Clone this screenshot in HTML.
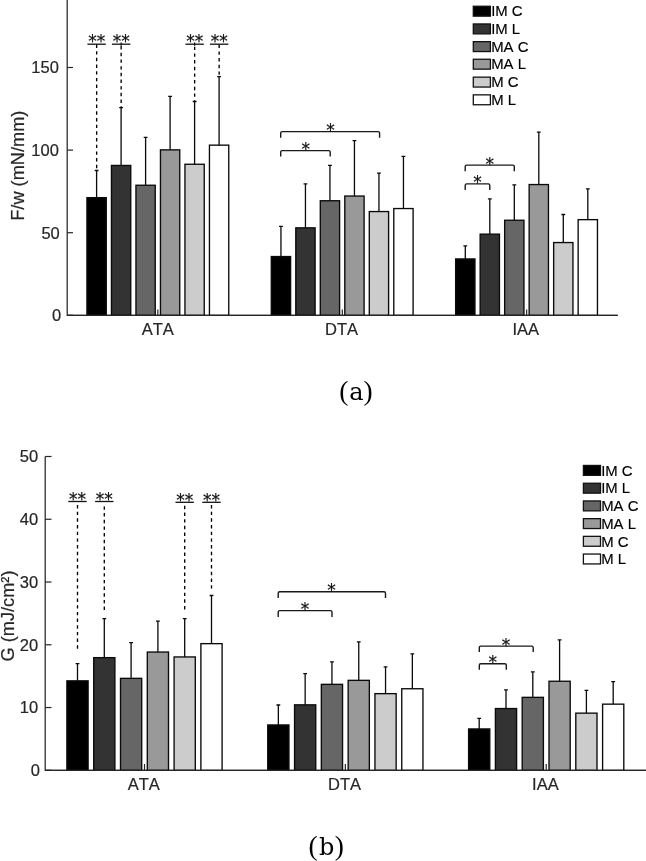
<!DOCTYPE html>
<html><head><meta charset="utf-8"><title>Figure</title>
<style>
html,body{margin:0;padding:0;background:#fff}
svg{display:block}
text{font-kerning:none}
.tk{font-family:"Liberation Sans",sans-serif;font-size:16.5px;fill:#262626;stroke:#262626;stroke-width:0.2px}
.yl{font-family:"Liberation Sans",sans-serif;font-size:18.2px;fill:#262626;stroke:#262626;stroke-width:0.2px}
.lg{font-family:"Liberation Sans",sans-serif;font-size:14.9px;fill:#000;stroke:#000;stroke-width:0.15px}
.st{font-family:"DejaVu Sans","Liberation Sans",sans-serif;font-size:17px;fill:#111;stroke:#111;stroke-width:0.2px}
.st2{font-family:"DejaVu Sans","Liberation Sans",sans-serif;font-size:17px;fill:#111;stroke:#111;stroke-width:0.2px}
.cap{font-family:"Liberation Serif",serif;font-size:27.5px;fill:#000}
.capl{font-family:"DejaVu Serif","Liberation Serif",serif;font-size:24px}
</style></head><body>
<svg width="646" height="861" viewBox="0 0 646 861">
<rect width="646" height="861" fill="#fff"/>
<path d="M67.2 0V315.3H617.7" fill="none" stroke="#262626" stroke-width="1.25"/>
<path d="M67.2 315.30h5.8" stroke="#262626" stroke-width="1.2"/>
<text x="61.20" y="321.20" text-anchor="end" class="tk">0</text>
<path d="M67.2 232.70h5.8" stroke="#262626" stroke-width="1.2"/>
<text x="59.80" y="238.60" text-anchor="end" class="tk">50</text>
<path d="M67.2 150.10h5.8" stroke="#262626" stroke-width="1.2"/>
<text x="58.90" y="156.00" text-anchor="end" class="tk">100</text>
<path d="M67.2 67.50h5.8" stroke="#262626" stroke-width="1.2"/>
<text x="58.90" y="73.40" text-anchor="end" class="tk">150</text>
<rect x="86.95" y="197.65" width="19.30" height="117.65" fill="#000000" stroke="#0a0a0a" stroke-width="1.35"/>
<path d="M96.60 197.65V170.30M94.70 170.50h3.8" stroke="#0a0a0a" stroke-width="1.3" fill="none"/>
<rect x="111.45" y="165.45" width="19.30" height="149.85" fill="#333333" stroke="#0a0a0a" stroke-width="1.35"/>
<path d="M121.10 165.45V107.50M119.20 107.70h3.8" stroke="#0a0a0a" stroke-width="1.3" fill="none"/>
<rect x="135.95" y="185.25" width="19.30" height="130.05" fill="#666666" stroke="#0a0a0a" stroke-width="1.35"/>
<path d="M145.60 185.25V137.20M143.70 137.40h3.8" stroke="#0a0a0a" stroke-width="1.3" fill="none"/>
<rect x="160.45" y="149.85" width="19.30" height="165.45" fill="#999999" stroke="#0a0a0a" stroke-width="1.35"/>
<path d="M170.10 149.85V96.10M168.20 96.30h3.8" stroke="#0a0a0a" stroke-width="1.3" fill="none"/>
<rect x="184.95" y="164.25" width="19.30" height="151.05" fill="#cccccc" stroke="#0a0a0a" stroke-width="1.35"/>
<path d="M194.60 164.25V101.30M192.70 101.50h3.8" stroke="#0a0a0a" stroke-width="1.3" fill="none"/>
<rect x="209.45" y="145.15" width="19.30" height="170.15" fill="#ffffff" stroke="#0a0a0a" stroke-width="1.35"/>
<path d="M219.10 145.15V76.50M217.20 76.70h3.8" stroke="#0a0a0a" stroke-width="1.3" fill="none"/>
<path d="M157.85 315.3v-5.8" stroke="#262626" stroke-width="1.2"/>
<text x="157.75" y="335.4" text-anchor="middle" class="tk" >ATA</text>
<rect x="271.30" y="256.55" width="19.30" height="58.75" fill="#000000" stroke="#0a0a0a" stroke-width="1.35"/>
<path d="M280.95 256.55V226.10M279.05 226.30h3.8" stroke="#0a0a0a" stroke-width="1.3" fill="none"/>
<rect x="295.80" y="227.85" width="19.30" height="87.45" fill="#333333" stroke="#0a0a0a" stroke-width="1.35"/>
<path d="M305.45 227.85V183.60M303.55 183.80h3.8" stroke="#0a0a0a" stroke-width="1.3" fill="none"/>
<rect x="320.30" y="200.75" width="19.30" height="114.55" fill="#666666" stroke="#0a0a0a" stroke-width="1.35"/>
<path d="M329.95 200.75V165.10M328.05 165.30h3.8" stroke="#0a0a0a" stroke-width="1.3" fill="none"/>
<rect x="344.80" y="196.05" width="19.30" height="119.25" fill="#999999" stroke="#0a0a0a" stroke-width="1.35"/>
<path d="M354.45 196.05V140.50M352.55 140.70h3.8" stroke="#0a0a0a" stroke-width="1.3" fill="none"/>
<rect x="369.30" y="211.55" width="19.30" height="103.75" fill="#cccccc" stroke="#0a0a0a" stroke-width="1.35"/>
<path d="M378.95 211.55V173.00M377.05 173.20h3.8" stroke="#0a0a0a" stroke-width="1.3" fill="none"/>
<rect x="393.80" y="208.55" width="19.30" height="106.75" fill="#ffffff" stroke="#0a0a0a" stroke-width="1.35"/>
<path d="M403.45 208.55V156.10M401.55 156.30h3.8" stroke="#0a0a0a" stroke-width="1.3" fill="none"/>
<path d="M342.3 315.3v-5.8" stroke="#262626" stroke-width="1.2"/>
<text x="341.50" y="335.4" text-anchor="middle" class="tk" >DTA</text>
<rect x="455.65" y="258.95" width="19.30" height="56.35" fill="#000000" stroke="#0a0a0a" stroke-width="1.35"/>
<path d="M465.30 258.95V245.60M463.40 245.80h3.8" stroke="#0a0a0a" stroke-width="1.3" fill="none"/>
<rect x="480.15" y="234.15" width="19.30" height="81.15" fill="#333333" stroke="#0a0a0a" stroke-width="1.35"/>
<path d="M489.80 234.15V198.60M487.90 198.80h3.8" stroke="#0a0a0a" stroke-width="1.3" fill="none"/>
<rect x="504.65" y="220.25" width="19.30" height="95.05" fill="#666666" stroke="#0a0a0a" stroke-width="1.35"/>
<path d="M514.30 220.25V184.70M512.40 184.90h3.8" stroke="#0a0a0a" stroke-width="1.3" fill="none"/>
<rect x="529.15" y="184.55" width="19.30" height="130.75" fill="#999999" stroke="#0a0a0a" stroke-width="1.35"/>
<path d="M538.80 184.55V132.00M536.90 132.20h3.8" stroke="#0a0a0a" stroke-width="1.3" fill="none"/>
<rect x="553.65" y="242.55" width="19.30" height="72.75" fill="#cccccc" stroke="#0a0a0a" stroke-width="1.35"/>
<path d="M563.30 242.55V214.30M561.40 214.50h3.8" stroke="#0a0a0a" stroke-width="1.3" fill="none"/>
<rect x="578.15" y="219.65" width="19.30" height="95.65" fill="#ffffff" stroke="#0a0a0a" stroke-width="1.35"/>
<path d="M587.80 219.65V188.70M585.90 188.90h3.8" stroke="#0a0a0a" stroke-width="1.3" fill="none"/>
<path d="M526.65 315.3v-5.8" stroke="#262626" stroke-width="1.2"/>
<text x="525.85" y="335.4" text-anchor="middle" class="tk" >IAA</text>
<path d="M67.2 315.3H617.7" fill="none" stroke="#262626" stroke-width="1.25"/>
<path d="M87.45 44.2h18.40" stroke="#111" stroke-width="1.3"/>
<path d="M96.65 44.50V170.20" stroke="#000" stroke-width="1.35" stroke-dasharray="3.4 3.28"/>
<text x="96.65" y="47.40" text-anchor="middle" class="st2">**</text>
<path d="M121.15 42.60v3.2" stroke="#000" stroke-width="1.2"/>
<path d="M111.95 44.2h18.40" stroke="#111" stroke-width="1.3"/>
<path d="M121.15 46.10V107.40" stroke="#000" stroke-width="1.35" stroke-dasharray="3.4 3.28"/>
<text x="121.15" y="47.40" text-anchor="middle" class="st2">**</text>
<path d="M194.65 42.60v3.2" stroke="#000" stroke-width="1.2"/>
<path d="M185.45 44.2h18.40" stroke="#111" stroke-width="1.3"/>
<path d="M194.65 46.70V101.20" stroke="#000" stroke-width="1.35" stroke-dasharray="3.4 3.28"/>
<text x="194.65" y="47.40" text-anchor="middle" class="st2">**</text>
<path d="M209.95 44.2h18.40" stroke="#111" stroke-width="1.3"/>
<path d="M219.15 44.70V76.40" stroke="#000" stroke-width="1.35" stroke-dasharray="3.4 3.28"/>
<text x="219.15" y="47.40" text-anchor="middle" class="st2">**</text>
<path d="M280.70 137.80V133.10Q280.70 131.60 282.20 131.60H378.10Q379.60 131.60 379.60 133.10V137.80" fill="none" stroke="#1a1a1a" stroke-width="1.4"/>
<text x="330.50" y="136.10" text-anchor="middle" class="st">*</text>
<path d="M280.70 156.60V152.10Q280.70 150.60 282.20 150.60H328.70Q330.20 150.60 330.20 152.10V156.60" fill="none" stroke="#1a1a1a" stroke-width="1.4"/>
<text x="305.70" y="155.10" text-anchor="middle" class="st">*</text>
<path d="M465.20 171.30V166.60Q465.20 165.10 466.70 165.10H512.80Q514.30 165.10 514.30 166.60V171.30" fill="none" stroke="#1a1a1a" stroke-width="1.4"/>
<text x="489.80" y="169.60" text-anchor="middle" class="st">*</text>
<path d="M465.20 190.00V185.40Q465.20 183.90 466.70 183.90H488.30Q489.80 183.90 489.80 185.40V190.00" fill="none" stroke="#1a1a1a" stroke-width="1.4"/>
<text x="477.40" y="188.40" text-anchor="middle" class="st">*</text>
<rect x="473.30" y="6.25" width="17.1" height="9.9" fill="#000000" stroke="#111" stroke-width="1.3"/>
<text x="491.2" y="16.40" class="lg">IM C</text>
<rect x="473.30" y="23.95" width="17.1" height="9.9" fill="#333333" stroke="#111" stroke-width="1.3"/>
<text x="491.2" y="34.10" class="lg">IM L</text>
<rect x="473.30" y="41.65" width="17.1" height="9.9" fill="#666666" stroke="#111" stroke-width="1.3"/>
<text x="491.2" y="51.80" class="lg">MA C</text>
<rect x="473.30" y="59.25" width="17.1" height="9.9" fill="#999999" stroke="#111" stroke-width="1.3"/>
<text x="491.2" y="69.40" class="lg">MA L</text>
<rect x="473.30" y="77.15" width="17.1" height="9.9" fill="#cccccc" stroke="#111" stroke-width="1.3"/>
<text x="491.2" y="87.30" class="lg">M C</text>
<rect x="473.30" y="94.85" width="17.1" height="9.9" fill="#ffffff" stroke="#111" stroke-width="1.3"/>
<text x="491.2" y="105.00" class="lg">M L</text>
<text transform="translate(24.3 165.7) rotate(-90)" text-anchor="middle" class="yl">F/w (mN/mm)</text>
<text x="339.2" y="400.2" class="cap">(<tspan class="capl" dx="1.0">a</tspan><tspan dx="-0.1">)</tspan></text>
<path d="M45.2 456.5V770.3H646" fill="none" stroke="#262626" stroke-width="1.25"/>
<path d="M45.2 770.30h6.3" stroke="#262626" stroke-width="1.2"/>
<text x="40.00" y="776.20" text-anchor="end" class="tk">0</text>
<path d="M45.2 707.54h6.3" stroke="#262626" stroke-width="1.2"/>
<text x="38.20" y="713.44" text-anchor="end" class="tk">10</text>
<path d="M45.2 644.78h6.3" stroke="#262626" stroke-width="1.2"/>
<text x="38.20" y="650.68" text-anchor="end" class="tk">20</text>
<path d="M45.2 582.02h6.3" stroke="#262626" stroke-width="1.2"/>
<text x="38.20" y="587.92" text-anchor="end" class="tk">30</text>
<path d="M45.2 519.26h6.3" stroke="#262626" stroke-width="1.2"/>
<text x="38.20" y="525.16" text-anchor="end" class="tk">40</text>
<path d="M45.2 456.50h6.3" stroke="#262626" stroke-width="1.2"/>
<text x="38.20" y="462.40" text-anchor="end" class="tk">50</text>
<rect x="66.90" y="680.85" width="21.20" height="89.45" fill="#000000" stroke="#0a0a0a" stroke-width="1.35"/>
<path d="M77.50 680.85V663.40M75.60 663.60h3.8" stroke="#0a0a0a" stroke-width="1.3" fill="none"/>
<rect x="93.70" y="657.65" width="21.20" height="112.65" fill="#333333" stroke="#0a0a0a" stroke-width="1.35"/>
<path d="M104.30 657.65V618.50M102.40 618.70h3.8" stroke="#0a0a0a" stroke-width="1.3" fill="none"/>
<rect x="120.50" y="678.35" width="21.20" height="91.95" fill="#666666" stroke="#0a0a0a" stroke-width="1.35"/>
<path d="M131.10 678.35V642.40M129.20 642.60h3.8" stroke="#0a0a0a" stroke-width="1.3" fill="none"/>
<rect x="147.30" y="652.05" width="21.20" height="118.25" fill="#999999" stroke="#0a0a0a" stroke-width="1.35"/>
<path d="M157.90 652.05V621.00M156.00 621.20h3.8" stroke="#0a0a0a" stroke-width="1.3" fill="none"/>
<rect x="174.10" y="656.95" width="21.20" height="113.35" fill="#cccccc" stroke="#0a0a0a" stroke-width="1.35"/>
<path d="M184.70 656.95V618.50M182.80 618.70h3.8" stroke="#0a0a0a" stroke-width="1.3" fill="none"/>
<rect x="200.90" y="643.65" width="21.20" height="126.65" fill="#ffffff" stroke="#0a0a0a" stroke-width="1.35"/>
<path d="M211.50 643.65V595.30M209.60 595.50h3.8" stroke="#0a0a0a" stroke-width="1.3" fill="none"/>
<path d="M144.5 770.3v-6.3" stroke="#262626" stroke-width="1.2"/>
<text x="143.70" y="790.4" text-anchor="middle" class="tk" >ATA</text>
<rect x="267.75" y="724.95" width="21.20" height="45.35" fill="#000000" stroke="#0a0a0a" stroke-width="1.35"/>
<path d="M278.35 724.95V704.80M276.45 705.00h3.8" stroke="#0a0a0a" stroke-width="1.3" fill="none"/>
<rect x="294.55" y="704.85" width="21.20" height="65.45" fill="#333333" stroke="#0a0a0a" stroke-width="1.35"/>
<path d="M305.15 704.85V673.50M303.25 673.70h3.8" stroke="#0a0a0a" stroke-width="1.3" fill="none"/>
<rect x="321.35" y="684.35" width="21.20" height="85.95" fill="#666666" stroke="#0a0a0a" stroke-width="1.35"/>
<path d="M331.95 684.35V661.70M330.05 661.90h3.8" stroke="#0a0a0a" stroke-width="1.3" fill="none"/>
<rect x="348.15" y="680.35" width="21.20" height="89.95" fill="#999999" stroke="#0a0a0a" stroke-width="1.35"/>
<path d="M358.75 680.35V641.60M356.85 641.80h3.8" stroke="#0a0a0a" stroke-width="1.3" fill="none"/>
<rect x="374.95" y="693.65" width="21.20" height="76.65" fill="#cccccc" stroke="#0a0a0a" stroke-width="1.35"/>
<path d="M385.55 693.65V666.70M383.65 666.90h3.8" stroke="#0a0a0a" stroke-width="1.3" fill="none"/>
<rect x="401.75" y="688.75" width="21.20" height="81.55" fill="#ffffff" stroke="#0a0a0a" stroke-width="1.35"/>
<path d="M412.35 688.75V653.70M410.45 653.90h3.8" stroke="#0a0a0a" stroke-width="1.3" fill="none"/>
<path d="M345.35 770.3v-6.3" stroke="#262626" stroke-width="1.2"/>
<text x="344.55" y="790.4" text-anchor="middle" class="tk" >DTA</text>
<rect x="468.60" y="728.95" width="21.20" height="41.35" fill="#000000" stroke="#0a0a0a" stroke-width="1.35"/>
<path d="M479.20 728.95V718.10M477.30 718.30h3.8" stroke="#0a0a0a" stroke-width="1.3" fill="none"/>
<rect x="495.40" y="708.55" width="21.20" height="61.75" fill="#333333" stroke="#0a0a0a" stroke-width="1.35"/>
<path d="M506.00 708.55V689.60M504.10 689.80h3.8" stroke="#0a0a0a" stroke-width="1.3" fill="none"/>
<rect x="522.20" y="697.35" width="21.20" height="72.95" fill="#666666" stroke="#0a0a0a" stroke-width="1.35"/>
<path d="M532.80 697.35V671.60M530.90 671.80h3.8" stroke="#0a0a0a" stroke-width="1.3" fill="none"/>
<rect x="549.00" y="681.25" width="21.20" height="89.05" fill="#999999" stroke="#0a0a0a" stroke-width="1.35"/>
<path d="M559.60 681.25V639.70M557.70 639.90h3.8" stroke="#0a0a0a" stroke-width="1.3" fill="none"/>
<rect x="575.80" y="713.15" width="21.20" height="57.15" fill="#cccccc" stroke="#0a0a0a" stroke-width="1.35"/>
<path d="M586.40 713.15V690.20M584.50 690.40h3.8" stroke="#0a0a0a" stroke-width="1.3" fill="none"/>
<rect x="602.60" y="704.15" width="21.20" height="66.15" fill="#ffffff" stroke="#0a0a0a" stroke-width="1.35"/>
<path d="M613.20 704.15V681.50M611.30 681.70h3.8" stroke="#0a0a0a" stroke-width="1.3" fill="none"/>
<path d="M546.2 770.3v-6.3" stroke="#262626" stroke-width="1.2"/>
<text x="545.40" y="790.4" text-anchor="middle" class="tk" >IAA</text>
<path d="M45.2 770.3H646" fill="none" stroke="#262626" stroke-width="1.25"/>
<path d="M68.30 501.5h18.40" stroke="#111" stroke-width="1.3"/>
<path d="M77.50 505.00V648.80" stroke="#000" stroke-width="1.35" stroke-dasharray="3.4 3.28"/>
<text x="77.50" y="504.70" text-anchor="middle" class="st2">**</text>
<path d="M95.10 501.5h18.40" stroke="#111" stroke-width="1.3"/>
<path d="M104.30 506.40V610.10" stroke="#000" stroke-width="1.35" stroke-dasharray="3.4 3.28"/>
<text x="104.30" y="504.70" text-anchor="middle" class="st2">**</text>
<path d="M175.50 502.3h18.40" stroke="#111" stroke-width="1.3"/>
<path d="M184.70 505.80V609.80" stroke="#000" stroke-width="1.35" stroke-dasharray="3.4 3.28"/>
<text x="184.70" y="505.50" text-anchor="middle" class="st2">**</text>
<path d="M202.30 502.3h18.40" stroke="#111" stroke-width="1.3"/>
<path d="M211.50 505.00V588.90" stroke="#000" stroke-width="1.35" stroke-dasharray="3.4 3.28"/>
<text x="211.50" y="505.50" text-anchor="middle" class="st2">**</text>
<path d="M278.20 597.90V593.20Q278.20 591.70 279.70 591.70H384.00Q385.50 591.70 385.50 593.20V597.90" fill="none" stroke="#1a1a1a" stroke-width="1.4"/>
<text x="331.60" y="596.20" text-anchor="middle" class="st">*</text>
<path d="M278.20 616.90V612.10Q278.20 610.60 279.70 610.60H330.50Q332.00 610.60 332.00 612.10V616.90" fill="none" stroke="#1a1a1a" stroke-width="1.4"/>
<text x="305.00" y="615.10" text-anchor="middle" class="st">*</text>
<path d="M479.30 652.10V647.60Q479.30 646.10 480.80 646.10H531.70Q533.20 646.10 533.20 647.60V652.10" fill="none" stroke="#1a1a1a" stroke-width="1.4"/>
<text x="506.00" y="650.60" text-anchor="middle" class="st">*</text>
<path d="M479.30 669.80V665.30Q479.30 663.80 480.80 663.80H504.80Q506.30 663.80 506.30 665.30V669.80" fill="none" stroke="#1a1a1a" stroke-width="1.4"/>
<text x="492.70" y="668.30" text-anchor="middle" class="st">*</text>
<rect x="583.40" y="465.45" width="17.1" height="9.9" fill="#000000" stroke="#111" stroke-width="1.3"/>
<text x="601.2" y="475.60" class="lg">IM C</text>
<rect x="583.40" y="483.25" width="17.1" height="9.9" fill="#333333" stroke="#111" stroke-width="1.3"/>
<text x="601.2" y="493.40" class="lg">IM L</text>
<rect x="583.40" y="500.95" width="17.1" height="9.9" fill="#666666" stroke="#111" stroke-width="1.3"/>
<text x="601.2" y="511.10" class="lg">MA C</text>
<rect x="583.40" y="518.65" width="17.1" height="9.9" fill="#999999" stroke="#111" stroke-width="1.3"/>
<text x="601.2" y="528.80" class="lg">MA L</text>
<rect x="583.40" y="536.35" width="17.1" height="9.9" fill="#cccccc" stroke="#111" stroke-width="1.3"/>
<text x="601.2" y="546.50" class="lg">M C</text>
<rect x="583.40" y="554.05" width="17.1" height="9.9" fill="#ffffff" stroke="#111" stroke-width="1.3"/>
<text x="601.2" y="564.20" class="lg">M L</text>
<text transform="translate(13.5 616) rotate(-90)" text-anchor="middle" class="yl">G (mJ/cm²)</text>
<text x="308.6" y="854.9" class="cap">(<tspan class="capl" dx="1.2">b</tspan><tspan dx="0.4">)</tspan></text>
</svg>
</body></html>
